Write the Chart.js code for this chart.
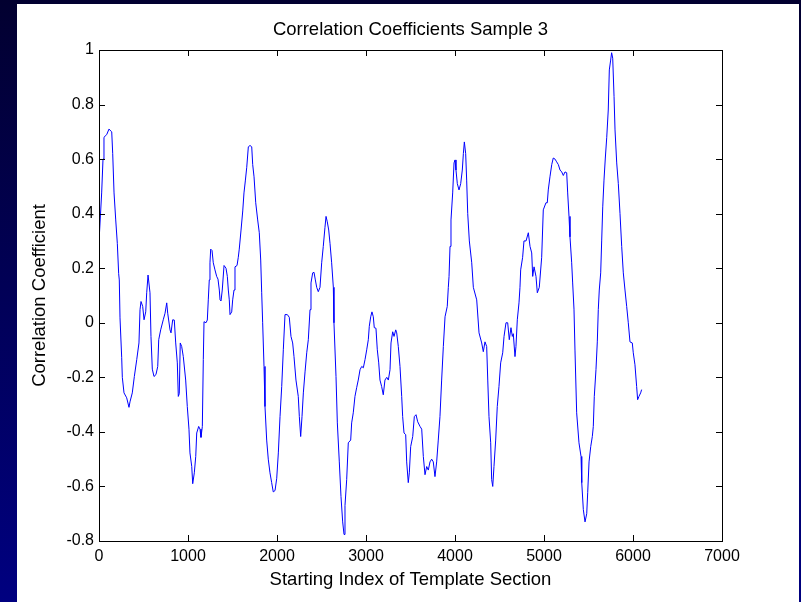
<!DOCTYPE html>
<html>
<head>
<meta charset="utf-8">
<title>Correlation Coefficients Sample 3</title>
<script src="https://cdn.jsdelivr.net/npm/chart.js@4"></script>
<style>
  html, body { margin: 0; padding: 0; background: #000033; }
  #wrap { width: 801px; height: 602px; }
</style>
</head>
<body>
<div id="wrap"><canvas id="corrChart" width="801" height="602"></canvas></div>
<script>
// starting index of each template section
const startIndex = [
  3, 30, 45, 56, 87, 112, 143, 154, 169, 188, 206, 221, 228, 236, 255, 262, 281, 311, 337, 348,
  374, 397, 424, 449, 461, 472, 491, 506, 525, 536, 551, 573, 584, 599, 618, 640, 660, 671, 693, 722,
  742, 761, 772, 798, 809, 828, 846, 862, 880, 891, 902, 913, 929, 947, 974, 992, 1011, 1022, 1042, 1053,
  1071, 1087, 1098, 1120, 1135, 1146, 1161, 1172, 1180, 1202, 1217, 1228, 1239, 1247, 1255, 1270, 1284, 1303, 1322, 1337,
  1352, 1360, 1371, 1385, 1405, 1427, 1442, 1453, 1464, 1472, 1491, 1502, 1517, 1528, 1551, 1565, 1576, 1596, 1615, 1629,
  1644, 1660, 1678, 1697, 1716, 1727, 1742, 1761, 1783, 1801, 1817, 1828, 1839, 1854, 1865, 1884, 1902, 1921, 1940, 1958,
  1978, 1997, 2015, 2034, 2053, 2071, 2090, 2116, 2138, 2157, 2176, 2191, 2213, 2239, 2251, 2266, 2281, 2296, 2315, 2334,
  2352, 2371, 2382, 2401, 2416, 2431, 2446, 2464, 2483, 2502, 2520, 2539, 2551, 2565, 2581, 2596, 2614, 2633, 2640, 2663,
  2678, 2700, 2719, 2738, 2753, 2764, 2783, 2801, 2828, 2839, 2857, 2876, 2895, 2913, 2933, 2952, 2970, 2989, 3008, 3026,
  3037, 3053, 3067, 3082, 3093, 3112, 3127, 3143, 3157, 3176, 3194, 3213, 3233, 3251, 3270, 3281, 3300, 3315, 3334, 3345,
  3363, 3382, 3401, 3412, 3427, 3446, 3457, 3475, 3487, 3502, 3525, 3543, 3562, 3581, 3607, 3626, 3644, 3663, 3682, 3700,
  3719, 3738, 3756, 3775, 3794, 3812, 3831, 3850, 3869, 3888, 3913, 3925, 3933, 3944, 3955, 3974, 3989, 4000, 4011, 4026,
  4045, 4064, 4082, 4094, 4105, 4120, 4131, 4143, 4161, 4188, 4206, 4244, 4270, 4300, 4318, 4337, 4356, 4368, 4382, 4401,
  4412, 4424, 4438, 4457, 4475, 4494, 4513, 4536, 4551, 4573, 4592, 4610, 4629, 4644, 4655, 4674, 4685, 4700, 4719, 4730,
  4738, 4760, 4775, 4798, 4824, 4843, 4862, 4873, 4888, 4910, 4925, 4947, 4974, 4992, 5022, 5037, 5048, 5067, 5087, 5104,
  5124, 5142, 5161, 5180, 5199, 5217, 5236, 5255, 5266, 5281, 5292, 5311, 5322, 5337, 5348, 5367, 5393, 5416, 5424, 5442,
  5461, 5480, 5491, 5506, 5525, 5543, 5554, 5565, 5584, 5599, 5610, 5621, 5637, 5648, 5660, 5674, 5689, 5705, 5722, 5734,
  5749, 5760, 5772, 5787, 5798, 5817, 5835, 5854, 5873, 5891, 5910, 5929, 5947, 5966, 5992, 6003, 6022, 6041, 6052, 6067,
  6086, 6097
];

// correlation coefficient at each starting index
const coefficient = [
  0.315, 0.476, 0.60, 0.68, 0.69, 0.71, 0.70, 0.62, 0.476, 0.377, 0.29, 0.18, 0.157, 0.018, -0.128, -0.2, -0.257, -0.275, -0.31, -0.29,
  -0.257, -0.197, -0.135, -0.074, 0.048, 0.078, 0.06, 0.011, 0.04, 0.11, 0.175, 0.11, -0.05, -0.17, -0.197, -0.19, -0.16, -0.062, -0.026, 0.011,
  0.035, 0.073, 0.035, -0.026, -0.037, 0.011, 0.01, -0.074, -0.147, -0.27, -0.26, -0.074, -0.087, -0.124, -0.21, -0.307, -0.39, -0.477, -0.527, -0.59,
  -0.55, -0.49, -0.404, -0.38, -0.39, -0.42, -0.38, -0.135, 0.004, 0.0, 0.01, 0.084, 0.157, 0.22, 0.27, 0.265, 0.22, 0.194, 0.17, 0.16,
  0.12, 0.084, 0.08, 0.12, 0.21, 0.20, 0.17, 0.12, 0.084, 0.03, 0.04, 0.084, 0.12, 0.205, 0.21, 0.24, 0.27, 0.34, 0.41, 0.476,
  0.52, 0.57, 0.645, 0.65, 0.645, 0.58, 0.535, 0.44, 0.377, 0.33, 0.23, 0.11, 0.0, -0.16, -0.307, -0.43, -0.50, -0.55, -0.586, -0.62,
  -0.615, -0.57, -0.477, -0.344, -0.234, -0.099, 0.03, 0.03, 0.02, -0.05, -0.074, -0.124, -0.21, -0.27, -0.344, -0.417, -0.344, -0.257, -0.18, -0.11,
  -0.062, 0.048, 0.146, 0.183, 0.185, 0.157, 0.13, 0.114, 0.13, 0.22, 0.28, 0.35, 0.39, 0.37, 0.34, 0.29, 0.22, 0.13, 0.0, -0.197,
  -0.367, -0.51, -0.637, -0.73, -0.776, -0.67, -0.575, -0.44, -0.43, -0.367, -0.33, -0.27, -0.238, -0.21, -0.172, -0.16, -0.165, -0.135, -0.099, -0.062,
  -0.013, 0.022, 0.04, 0.022, -0.018, -0.02, -0.099, -0.147, -0.21, -0.234, -0.264, -0.21, -0.2, -0.21, -0.172, -0.074, -0.033, -0.05, -0.026, -0.037,
  -0.087, -0.16, -0.27, -0.344, -0.404, -0.41, -0.51, -0.586, -0.55, -0.454, -0.417, -0.344, -0.337, -0.363, -0.38, -0.39, -0.49, -0.557, -0.527, -0.54,
  -0.51, -0.50, -0.51, -0.564, -0.51, -0.43, -0.344, -0.21, -0.087, 0.022, 0.06, 0.13, 0.17, 0.28, 0.377, 0.476, 0.586, 0.597, 0.56, 0.51,
  0.487, 0.51, 0.56, 0.62, 0.663, 0.62, 0.523, 0.40, 0.30, 0.22, 0.13, 0.084, -0.037, -0.074, -0.106, -0.07, -0.087, -0.21, -0.344, -0.44,
  -0.575, -0.60, -0.527, -0.43, -0.307, -0.234, -0.147, -0.11, -0.05, 0.0, 0.0, -0.062, -0.018, -0.05, -0.04, -0.124, -0.087, 0.011, 0.073, 0.13,
  0.194, 0.24, 0.30, 0.30, 0.33, 0.28, 0.256, 0.17, 0.205, 0.17, 0.11, 0.13, 0.24, 0.414, 0.44, 0.44, 0.487, 0.535, 0.58, 0.604,
  0.60, 0.59, 0.58, 0.56, 0.553, 0.54, 0.553, 0.55, 0.476, 0.39, 0.315, 0.22, 0.146, 0.05, -0.1, -0.33, -0.44, -0.49, -0.586, -0.685,
  -0.73, -0.70, -0.623, -0.51, -0.454, -0.417, -0.38, -0.27, -0.172, -0.07, 0.048, 0.12, 0.183, 0.30, 0.425, 0.523, 0.604, 0.68, 0.78, 0.927,
  0.963, 0.99, 0.97, 0.83, 0.707, 0.586, 0.51, 0.40, 0.28, 0.183, 0.12, 0.06, 0.0, -0.07, -0.074, -0.11, -0.154, -0.234, -0.282, -0.27,
  -0.257, -0.245
];

const xTickValues = [0, 1000, 2000, 3000, 4000, 5000, 6000, 7000];
const xTickLabels = ['0', '1000', '2000', '3000', '4000', '5000', '6000', '7000'];
const yTickValues = [-0.8, -0.6, -0.4, -0.2, 0, 0.2, 0.4, 0.6, 0.8, 1];
const yTickLabels = ['-0.8', '-0.6', '-0.4', '-0.2', '0', '0.2', '0.4', '0.6', '0.8', '1'];

const FONT = '"Liberation Sans", Arial, Helvetica, sans-serif';

// slide backdrop + white figure panel
const backdrop = {
  id: 'backdrop',
  beforeDraw(chart) {
    const ctx = chart.ctx;
    const g = ctx.createLinearGradient(0, 0, 0, chart.height);
    g.addColorStop(0, '#020030');
    g.addColorStop(1, '#000080');
    ctx.save();
    ctx.fillStyle = g;
    ctx.fillRect(0, 0, chart.width, chart.height);
    ctx.fillStyle = '#ffffff';
    ctx.fillRect(17, 4, 782, chart.height - 4);
    ctx.restore();
  }
};

// box around the plot with inward tick marks on all four sides
const axesBox = {
  id: 'axesBox',
  afterDraw(chart) {
    const ctx = chart.ctx;
    const a = chart.chartArea;
    const xs = chart.scales.x, ys = chart.scales.y;
    const len = 6;
    ctx.save();
    ctx.strokeStyle = '#000000';
    ctx.lineWidth = 1;
    ctx.beginPath();
    xTickValues.forEach(v => {
      const px = Math.round(xs.getPixelForValue(v)) + 0.5;
      ctx.moveTo(px, a.bottom); ctx.lineTo(px, a.bottom - len);
      ctx.moveTo(px, a.top); ctx.lineTo(px, a.top + len);
    });
    yTickValues.forEach(v => {
      const py = Math.round(ys.getPixelForValue(v)) + 0.5;
      ctx.moveTo(a.left, py); ctx.lineTo(a.left + len, py);
      ctx.moveTo(a.right, py); ctx.lineTo(a.right - len, py);
    });
    ctx.stroke();
    ctx.strokeRect(Math.round(a.left) + 0.5, Math.round(a.top) + 0.5,
      Math.round(a.right - a.left), Math.round(a.bottom - a.top));
    ctx.restore();
  }
};

const points = startIndex.map((x, i) => ({ x, y: coefficient[i] }));

new Chart(document.getElementById('corrChart'), {
  type: 'line',
  data: {
    datasets: [{
      data: points,
      borderColor: '#0000ff',
      borderWidth: 1,
      pointRadius: 0,
      tension: 0,
      fill: false
    }]
  },
  options: {
    responsive: false,
    animation: false,
    events: [],
    layout: { padding: { left: 0, right: 79, top: 0, bottom: 0 } },
    plugins: {
      legend: { display: false },
      tooltip: { enabled: false },
      title: {
        display: true,
        text: 'Correlation Coefficients Sample 3',
        fullSize: false,
        color: '#000',
        font: { family: FONT, size: 18.5, weight: 'normal' },
        padding: { top: 19, bottom: 8.8 }
      }
    },
    scales: {
      x: {
        type: 'linear',
        min: 0,
        max: 7000,
        afterBuildTicks: s => { s.ticks = xTickValues.map(v => ({ value: v })); },
        afterFit: s => { s.height = 61; },
        grid: { display: false, drawTicks: false },
        border: { display: false },
        ticks: {
          autoSkip: false,
          maxRotation: 0,
          padding: 6,
          color: '#000',
          font: { family: FONT, size: 16 },
          callback: (v, i) => xTickLabels[i]
        },
        title: {
          display: true,
          text: 'Starting Index of Template Section',
          color: '#000',
          font: { family: FONT, size: 18.5 },
          padding: { top: 0, bottom: 11 }
        }
      },
      y: {
        type: 'linear',
        min: -0.8,
        max: 1,
        afterBuildTicks: s => { s.ticks = yTickValues.map(v => ({ value: v })); },
        afterFit: s => { s.width = 99; },
        grid: { display: false, drawTicks: false },
        border: { display: false },
        ticks: {
          autoSkip: false,
          padding: 5,
          color: '#000',
          font: { family: FONT, size: 16 },
          callback: (v, i) => yTickLabels[i]
        },
        title: {
          display: true,
          text: 'Correlation Coefficient',
          color: '#000',
          font: { family: FONT, size: 18.5 },
          padding: { top: 29, bottom: 0 }
        }
      }
    }
  },
  plugins: [backdrop, axesBox]
});
</script>
</body>
</html>
